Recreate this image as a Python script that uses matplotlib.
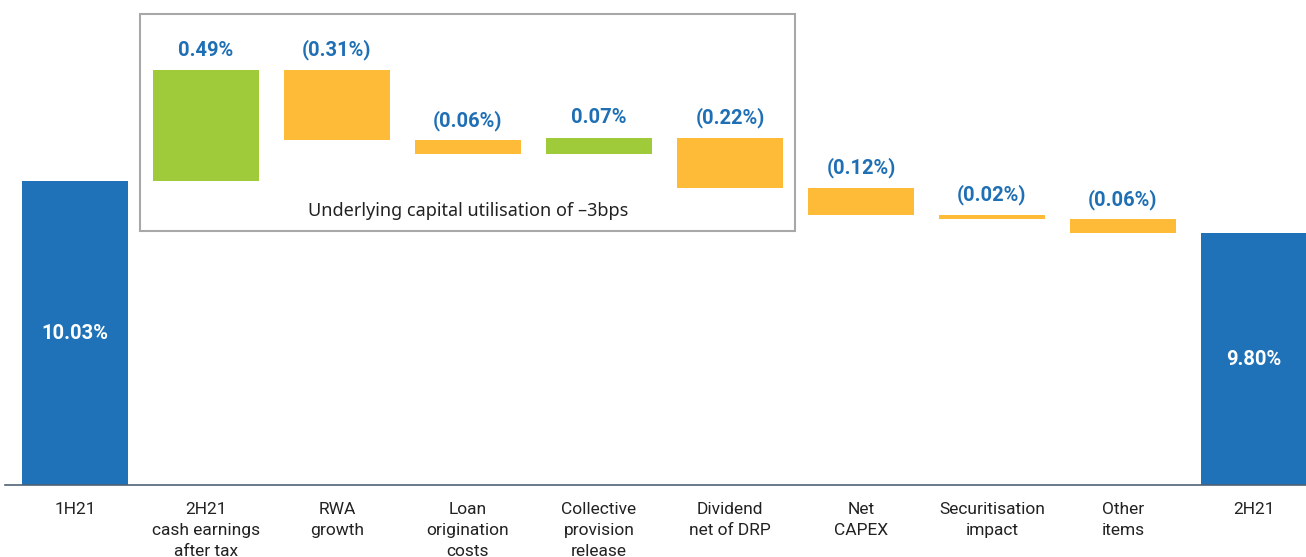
import matplotlib
matplotlib.use("Agg")
import matplotlib.pyplot as plt
from matplotlib.patches import Rectangle

categories = ["1H21", "2H21\ncash earnings\nafter tax", "RWA\ngrowth", "Loan\norigination\ncosts",
              "Collective\nprovision\nrelease", "Dividend\nnet of DRP", "Net\nCAPEX",
              "Securitisation\nimpact", "Other\nitems", "2H21"]
start_value = 10.03
changes = [0.49, -0.31, -0.06, 0.07, -0.22, -0.12, -0.02, -0.06]
end_value = 9.80
box_note = "Underlying capital utilisation of \u20133bps"

BLUE = "#1F72B8"
GREEN = "#9FCB3B"
YELLOW = "#FDBB37"
LABEL_BLUE = "#1F6FB5"
FONT = "Roboto"

plt.rcParams['font.family'] = ['Noto Sans', 'DejaVu Sans']

fig = plt.figure(figsize=(13.06, 5.57), dpi=100)
ax = fig.add_axes([5/1306, 72/557, 1301/1306, 485/557])
ax.set_xlim(-0.534, 9.397)
ax.set_ylim(8.685, 10.831)

width = 0.81
x = list(range(len(categories)))
vfs = 14.5

# start bar
ax.bar(0, start_value - 8.685, bottom=8.685, width=width, color=BLUE)
ax.text(0, (start_value + 8.685) / 2, f"{start_value:.2f}%", ha="center", va="center",
        color="white", fontsize=vfs, fontweight="bold", family=FONT)

level = start_value
for i, c in enumerate(changes, start=1):
    lo, hi = (level, level + c) if c >= 0 else (level + c, level)
    ax.bar(i, hi - lo, bottom=lo, width=width, color=GREEN if c >= 0 else YELLOW)
    lbl = f"{c:.2f}%" if c >= 0 else f"({abs(c):.2f}%)"
    ax.annotate(lbl, (i, hi), xytext=(0, 14.5), textcoords="offset points",
                ha="center", va="center", color=LABEL_BLUE, fontsize=vfs,
                fontweight="bold", family=FONT)
    level += c

n = len(categories) - 1
ax.bar(n, end_value - 8.685, bottom=8.685, width=width, color=BLUE)
ax.text(n, (end_value + 8.685) / 2, f"{end_value:.2f}%", ha="center", va="center",
        color="white", fontsize=vfs, fontweight="bold", family=FONT)

# box
ax.add_patch(Rectangle((0.496, 9.809), 5.0, 0.96, fill=False, edgecolor="#A8A8A8",
                       linewidth=1.5, zorder=0))
ax.text(3.0, 9.897, box_note, ha="center", va="center", fontsize=13, color="#222222")

for s in ["top", "right", "left"]:
    ax.spines[s].set_visible(False)
ax.spines["bottom"].set_color("#4F6275")
ax.spines["bottom"].set_linewidth(1.2)
ax.set_yticks([])
ax.set_xticks(x)
ax.set_xticklabels(categories, fontsize=12.5, color="#222222",
                   linespacing=1.5, family=FONT)
ax.tick_params(axis="x", length=0, pad=12)

fig.savefig("out.png", dpi=100)
